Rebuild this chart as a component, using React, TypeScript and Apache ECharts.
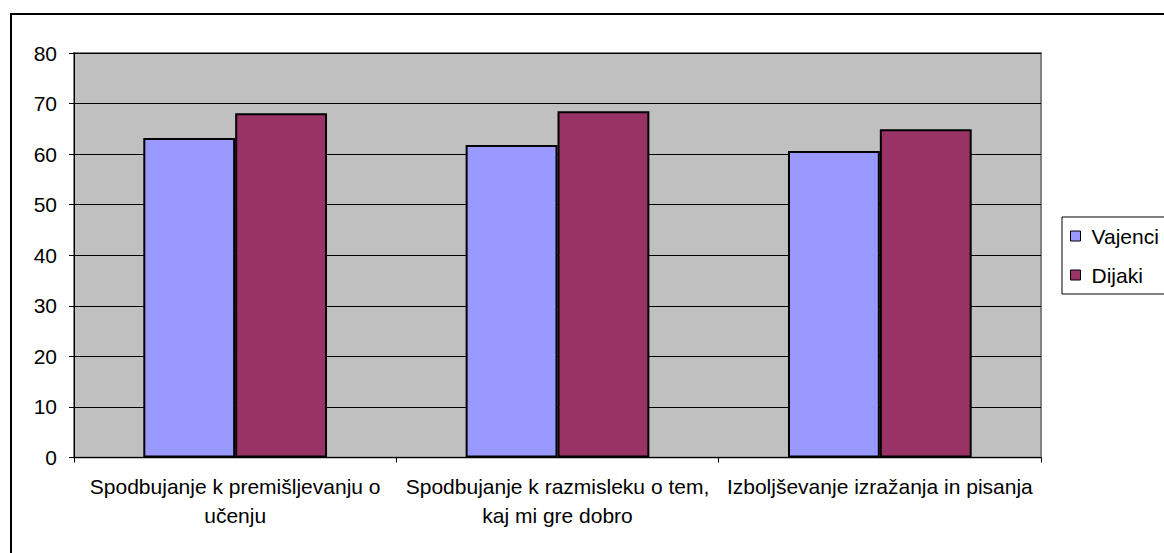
import React, { useEffect, useRef } from "react";
import * as echarts from "echarts";

const categories = [
  "Spodbujanje k premišljevanju o\nučenju",
  "Spodbujanje k razmisleku o tem,\nkaj mi gre dobro",
  "Izboljševanje izražanja in pisanja",
];
const seriesNames = ["Vajenci", "Dijaki"];
const vajenci = [63.2, 61.8, 60.6];
const dijaki = [68.1, 68.5, 64.9];
const colors = ["#9999FF", "#993366"];

const FONT = "'Liberation Sans', Arial, sans-serif";

export default function App() {
  const ref = useRef<HTMLDivElement>(null);
  useEffect(() => {
    if (!ref.current) return;
    const chart = echarts.init(ref.current, undefined, { renderer: "svg" });
    chart.setOption({
      animation: false,
      backgroundColor: "#ffffff",
      textStyle: { fontFamily: FONT, color: "#000" },
      graphic: [
        {
          type: "rect",
          shape: { x: 11, y: 14, width: 1200, height: 600 },
          style: { fill: "none", stroke: "#000", lineWidth: 2 },
          silent: true,
          z: -1,
        },
      ],
      grid: {
        left: 74,
        top: 53,
        right: 123,
        bottom: 95.5,
        show: true,
        backgroundColor: "#C0C0C0",
        borderColor: "#808080",
        borderWidth: 2,
      },
      legend: {
        orient: "vertical",
        left: 1062,
        top: 217,
        padding: [7, 20, 7, 8],
        itemGap: 15,
        itemWidth: 10,
        itemHeight: 10,
        icon: "rect",
        borderColor: "#000",
        borderWidth: 1,
        backgroundColor: "#fff",
        itemStyle: { borderColor: "#000", borderWidth: 1 },
        textStyle: {
          fontFamily: FONT,
          fontSize: 21,
          lineHeight: 24,
          color: "#000",
          padding: [0, 0, 0, 6],
        },
        data: seriesNames,
      },
      xAxis: {
        type: "category",
        data: categories,
        axisLine: { lineStyle: { color: "#000", width: 1 } },
        axisTick: { show: true, length: 5, lineStyle: { color: "#000" } },
        axisLabel: {
          interval: 0,
          fontFamily: FONT,
          fontSize: 21,
          lineHeight: 29,
          color: "#000",
          margin: 14,
          align: "center",
        },
      },
      yAxis: {
        type: "value",
        min: 0,
        max: 80,
        interval: 10,
        axisLine: { show: true, lineStyle: { color: "#000", width: 1 } },
        axisTick: { show: true, length: 5, lineStyle: { color: "#000" } },
        axisLabel: {
          fontFamily: FONT,
          fontSize: 21,
          color: "#000",
          margin: 17,
        },
        splitLine: { show: true, lineStyle: { color: "#000", width: 1 } },
      },
      series: [
        {
          name: seriesNames[0],
          type: "bar",
          data: vajenci,
          barGap: "0%",
          barCategoryGap: "43%",
          itemStyle: { color: colors[0], borderColor: "#000", borderWidth: 2 },
        },
        {
          name: seriesNames[1],
          type: "bar",
          data: dijaki,
          barGap: "0%",
          barCategoryGap: "43%",
          itemStyle: { color: colors[1], borderColor: "#000", borderWidth: 2 },
        },
      ],
    });
    return () => chart.dispose();
  }, []);
  return (
    <div
      ref={ref}
      style={{ position: "fixed", left: 0, top: 0, width: 1164, height: 553 }}
    />
  );
}
